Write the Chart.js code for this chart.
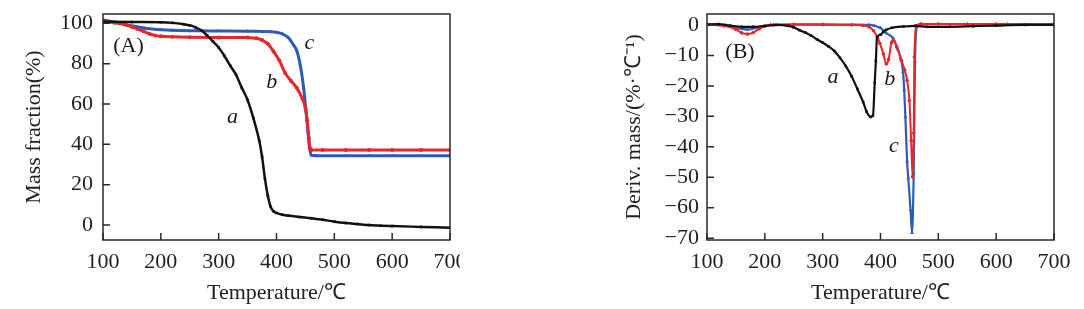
<!DOCTYPE html>
<html>
<head>
<meta charset="utf-8">
<script src="https://cdn.jsdelivr.net/npm/chart.js@4.4.1/dist/chart.umd.min.js"></script>
<style>
  html, body { margin: 0; padding: 0; background: #fff; }
  #wrap { position: relative; width: 1084px; height: 309px; overflow: hidden; }
  .panel { position: absolute; top: 0; height: 309px; overflow: hidden; }
  #pa { left: 0; width: 460px; }
  #pb { left: 600px; width: 484px; }
</style>
</head>
<body>
<div id="wrap">
  <div class="panel" id="pa"><canvas id="chartA" width="480" height="309"></canvas></div>
  <div class="panel" id="pb"><canvas id="chartB" width="484" height="309"></canvas></div>
</div>
<script>
// ── Data ────────────────────────────────────────────────

const xTicks = [100, 200, 300, 400, 500, 600, 700];
const yTicksA = [0, 20, 40, 60, 80, 100];
const yTicksB = [0, -10, -20, -30, -40, -50, -60, -70];

// (A) mass fraction, %
const tempA_a = [100, 150, 200, 220, 240, 250, 260, 270, 280, 290, 300, 310, 320, 330, 340, 350, 360, 370, 375, 380, 385, 390, 395, 400, 410, 420, 440, 460, 480, 500, 520, 540, 560, 580, 600, 650, 700];
const massA_a = [100.8, 100.6, 100.5, 100.2, 99.5, 99, 98, 96.5, 94, 91, 88, 83.8, 79, 74.5, 68, 62, 53, 42, 34, 23, 14.5, 9, 6.8, 6, 5.1, 4.7, 4, 3.4, 2.6, 1.7, 1, 0.5, 0, -0.3, -0.5, -0.9, -1.3];

const tempA_b = [100, 120, 140, 150, 160, 170, 180, 190, 200, 220, 250, 300, 350, 365, 375, 385, 395, 405, 415, 425, 435, 445, 450, 453, 456, 458, 460, 480, 520, 560, 600, 650, 700];
const massA_b = [101, 100.3, 99.2, 98.2, 97.2, 96, 94.8, 94, 93.6, 93.3, 93.1, 93, 92.9, 92.6, 91.7, 89.8, 86, 81.5, 75.3, 71.5, 68, 62.5, 58, 52, 43, 38, 37.2, 37.2, 37.2, 37.2, 37.2, 37.2, 37.2];

const tempA_c = [100, 120, 140, 160, 180, 200, 220, 260, 300, 350, 390, 400, 410, 420, 430, 435, 441, 447, 451, 454, 457, 460, 470, 520, 560, 600, 650, 700];
const massA_c = [101.7, 100.5, 99.3, 98.2, 97.3, 96.8, 96.5, 96.3, 96.2, 96.1, 95.8, 95.5, 94.8, 93, 89, 86.5, 79.4, 67.8, 56.5, 47, 38.5, 34.6, 34.4, 34.4, 34.4, 34.4, 34.4, 34.4];

// (B) derivative mass, %/℃
const tempB_a = [100, 120, 140, 160, 180, 200, 220, 240, 250, 260, 270, 280, 290, 300, 310, 320, 330, 340, 350, 360, 370, 376, 383, 387, 390, 392, 394, 400, 405, 410, 420, 440, 460, 480, 520, 560, 600, 650, 700];
const derivB_a = [0.2, 0.3, -0.2, -0.6, -0.6, -0.3, 0, -0.3, -0.8, -1.7, -2.5, -3.5, -4.7, -5.8, -7, -8.5, -10.8, -13.5, -16.8, -21, -25.3, -28.5, -30.2, -29.7, -19, -11.8, -4, -3.2, -2.2, -1.6, -0.9, -0.5, -0.3, -0.6, -0.6, -0.4, -0.2, 0, 0];

const tempB_b = [100, 130, 150, 160, 170, 180, 190, 200, 215, 250, 300, 350, 370, 380, 388, 395, 399, 405, 410, 414, 419, 422, 428, 436, 442, 446, 450, 453, 455.5, 457.5, 458.6, 462, 470, 500, 600, 700];
const derivB_b = [0, -0.3, -1.5, -2.6, -3, -2.5, -1.3, -0.4, 0, 0.1, 0.1, 0, -0.2, -0.6, -1.9, -4.2, -6.1, -9.5, -12.8, -11.3, -5.8, -5.1, -7.2, -11.6, -14.8, -18.2, -24.8, -38, -49.8, -35.5, -10.5, -0.3, 0.3, 0.3, 0.3, 0.3];

const tempB_c = [100, 130, 150, 170, 190, 210, 250, 300, 350, 380, 390, 400, 410, 422, 430, 435, 439, 441, 443, 446, 448, 452, 454.5, 457.4, 459.7, 463, 470, 550, 620, 700];
const derivB_c = [0.2, -0.2, -1, -1.5, -0.8, 0, 0.2, 0.2, 0.1, 0, -0.3, -1, -2.7, -4.4, -8, -11, -15.4, -21.3, -30.2, -44.8, -50.3, -60.7, -68.3, -48.8, -12, -0.5, 0.3, 0.3, 0.3, 0.3];

// curve labels, in data coordinates
const labelsA = [
  { text: '(A)', x: 144, y: 88.4, italic: false },
  { text: 'a', x: 324, y: 53.5, italic: true },
  { text: 'b', x: 392, y: 71, italic: true },
  { text: 'c', x: 457, y: 90, italic: true },
];
const labelsB = [
  { text: '(B)', x: 157, y: -8.8, italic: false },
  { text: 'a', x: 318, y: -17.2, italic: true },
  { text: 'b', x: 416, y: -17.7, italic: true },
  { text: 'c', x: 423, y: -39.9, italic: true },
];

// ── Style ───────────────────────────────────────────────

const SERIF = "'Liberation Serif', 'Times New Roman', serif";
Chart.defaults.font.family = SERIF;
Chart.defaults.color = '#222';

const COLORS = { a: '#111111', b: '#e8262b', c: '#2d5cb8' };

// ── Plugins ─────────────────────────────────────────────

// box frame + inward tick marks
const frameTicks = {
  id: 'frameTicks',
  afterDatasetsDraw(chart) {
    const { ctx, chartArea: a, scales: { x, y } } = chart;
    ctx.save();
    ctx.strokeStyle = '#2a2a2a';
    ctx.lineWidth = 1.5;
    ctx.strokeRect(a.left, a.top, a.right - a.left, a.bottom - a.top);
    ctx.beginPath();
    x.ticks.forEach(t => {
      const px = x.getPixelForValue(t.value);
      ctx.moveTo(px, a.bottom);
      ctx.lineTo(px, a.bottom - 7);
    });
    y.ticks.forEach(t => {
      const py = y.getPixelForValue(t.value);
      ctx.moveTo(a.left, py);
      ctx.lineTo(a.left + 7, py);
    });
    ctx.stroke();
    ctx.restore();
  }
};

const curveLabels = {
  id: 'curveLabels',
  afterDraw(chart, args, opts) {
    const { ctx, scales: { x, y } } = chart;
    ctx.save();
    ctx.fillStyle = '#1a1a1a';
    ctx.textAlign = 'center';
    ctx.textBaseline = 'middle';
    (opts.items || []).forEach(it => {
      ctx.font = (it.italic ? 'italic ' : '') + '22px ' + SERIF;
      ctx.fillText(it.text, x.getPixelForValue(it.x), y.getPixelForValue(it.y));
    });
    ctx.restore();
  }
};

// ── Helpers ─────────────────────────────────────────────

function toPoints(xs, ys) {
  return xs.map((t, i) => ({ x: t, y: ys[i] }));
}

function series(xs, ys, color, pointStyle, radius, width) {
  return {
    data: toPoints(xs, ys),
    borderColor: color,
    backgroundColor: color,
    borderWidth: width,
    pointStyle,
    pointRadius: radius,
    pointBorderWidth: 0,
    cubicInterpolationMode: 'monotone',
  };
}

// drop the label overhang padding so the plot box sits where we put it
function noScalePadding(s) {
  s.paddingTop = 0;
  s.paddingBottom = 0;
  s.paddingLeft = 0;
  s.paddingRight = 0;
}

function makePanel(canvas, cfg) {
  return new Chart(canvas, {
    type: 'line',
    data: { datasets: cfg.datasets },
    options: {
      responsive: false,
      animation: false,
      layout: { padding: { top: 14, right: 30, left: 0, bottom: 0 } },
      plugins: {
        legend: { display: false },
        tooltip: { enabled: false },
        curveLabels: { items: cfg.labels },
      },
      scales: {
        x: {
          type: 'linear',
          min: 100, max: 700,
          grid: { display: false, drawTicks: false },
          border: { display: false },
          afterBuildTicks: s => { s.ticks = xTicks.map(v => ({ value: v })); },
          afterFit: s => { s.height = 69; noScalePadding(s); },
          ticks: { padding: 9, font: { size: 22 }, color: '#222' },
          title: {
            display: true, text: 'Temperature/℃',
            font: { size: 22 }, color: '#222',
            padding: { top: 0, bottom: 3 },
          },
        },
        y: {
          type: 'linear',
          min: cfg.yMin, max: cfg.yMax,
          grid: { display: false, drawTicks: false },
          border: { display: false },
          afterBuildTicks: s => { s.ticks = cfg.yTicks.map(v => ({ value: v })); },
          afterFit: s => { s.width = cfg.yWidth; noScalePadding(s); },
          ticks: {
            padding: cfg.yPad, font: { size: 22 }, color: '#222',
            callback: v => (v < 0 ? '\u2212' + Math.abs(v) : String(v)),
          },
          title: {
            display: true, text: cfg.yTitle,
            font: { size: 22 }, color: '#222',
            padding: { top: 21, bottom: 0 },
          },
        },
      },
    },
    plugins: [frameTicks, curveLabels],
  });
}

// ── Charts ──────────────────────────────────────────────

makePanel(document.getElementById('chartA'), {
  yMin: -7.4, yMax: 104.6, yTicks: yTicksA, yWidth: 103, yPad: 10,
  yTitle: 'Mass fraction(%)',
  labels: labelsA,
  datasets: [
    series(tempA_a, massA_a, COLORS.a, 'rect', 1.8, 2.5),
    series(tempA_b, massA_b, COLORS.b, 'circle', 2, 3),
    series(tempA_c, massA_c, COLORS.c, 'triangle', 2.2, 3),
  ],
});

makePanel(document.getElementById('chartB'), {
  yMin: -70.6, yMax: 3.6, yTicks: yTicksB, yWidth: 107, yPad: 8,
  yTitle: 'Deriv. mass/(%·℃⁻¹)',
  labels: labelsB,
  datasets: [
    series(tempB_a, derivB_a, COLORS.a, 'rect', 1.8, 2.2),
    series(tempB_b, derivB_b, COLORS.b, 'circle', 1.8, 2),
    series(tempB_c, derivB_c, COLORS.c, 'triangle', 2.2, 2.2),
  ],
});
</script>
</body>
</html>
